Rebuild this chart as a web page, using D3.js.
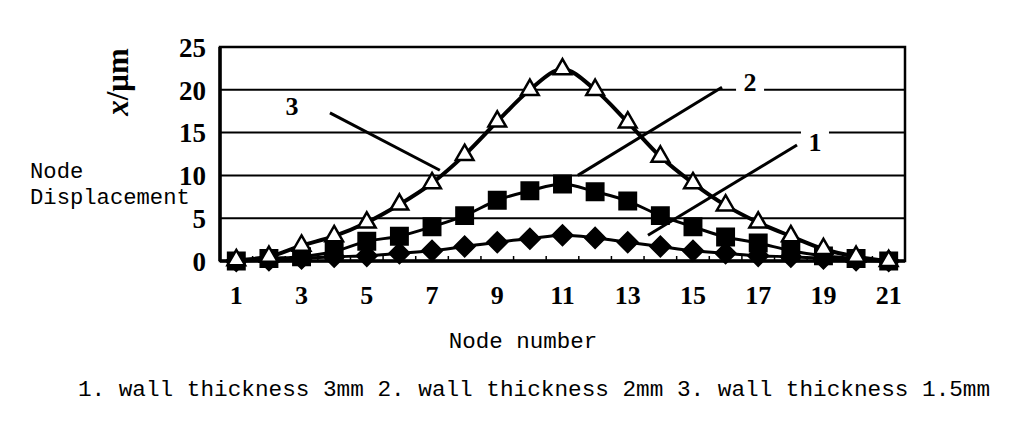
<!DOCTYPE html>
<html><head><meta charset="utf-8">
<script src="https://cdn.jsdelivr.net/npm/d3@7"></script>
<style>
html,body{margin:0;padding:0;background:#fff;}
svg{display:block;}
</style></head>
<body>
<svg id="chart" width="1024" height="445"></svg>
<script>
// ---- data ----
const nodes = d3.range(1, 22);
const xTickLabels = [1,3,5,7,9,11,13,15,17,19,21];
const yTickValues = [0,5,10,15,20,25];
const series1 = [0,0.1,0.3,0.5,0.6,0.9,1.2,1.7,2.2,2.6,3.0,2.7,2.2,1.7,1.2,0.9,0.6,0.5,0.3,0.1,0]; // 3mm diamonds
const series2 = [0,0.3,0.5,1.1,2.3,2.9,4.0,5.3,7.1,8.2,9.0,8.1,7.0,5.3,4.0,2.8,2.1,1.2,0.6,0.3,0]; // 2mm squares
const series3 = [0.1,0.5,1.8,2.9,4.5,6.6,9.1,12.4,16.3,20.0,22.4,20.0,16.2,12.2,9.1,6.5,4.5,2.9,1.4,0.5,0]; // 1.5mm triangles
const labels = ["1","2","3"];
// annotation anchors in data coordinates [node, value]
const annoText = [[18.74,14.0],[16.75,21.0],[2.71,18.2]];
const annoFrom = [[18.19,13.55],[15.89,20.3],[3.87,17.3]];
const annoTo   = [[13.62,3.0],[11.47,10.0],[7.24,10.6]];
const yAxisTitle = "Node\nDisplacement";
const xAxisTitle = "Node number";
const caption = "1. wall thickness 3mm 2. wall thickness 2mm 3. wall thickness 1.5mm";

// ---- layout ----
const svg = d3.select("#chart");
const L = 220, R = 905, T = 47, B = 261;
const x = d3.scaleLinear().domain([0.5, 21.5]).range([L, R]);
const y = d3.scaleLinear().domain([0, 25]).range([B, T]);
const serif = "'Liberation Serif','DejaVu Serif',serif";
const mono = "'Liberation Mono','DejaVu Sans Mono',monospace";

// grid lines
svg.append("g").selectAll("line").data(yTickValues.filter(v => v > 0 && v < 25)).join("line")
  .attr("x1", L).attr("x2", R).attr("y1", d => y(d)).attr("y2", d => y(d))
  .attr("stroke", "#000").attr("stroke-width", 2);

// frame
svg.append("rect").attr("x", L).attr("y", T).attr("width", R - L).attr("height", B - T)
  .attr("fill", "none").attr("stroke", "#000").attr("stroke-width", 2.5);
svg.append("line").attr("x1", L).attr("x2", L).attr("y1", T).attr("y2", B)
  .attr("stroke", "#000").attr("stroke-width", 3.5);
svg.append("line").attr("x1", L).attr("x2", R).attr("y1", B).attr("y2", B)
  .attr("stroke", "#000").attr("stroke-width", 3.5);

// x tick marks at category boundaries
svg.append("g").selectAll("line").data(d3.range(1, 21)).join("line")
  .attr("x1", d => x(d + 0.5)).attr("x2", d => x(d + 0.5))
  .attr("y1", B).attr("y2", B - 5).attr("stroke", "#000").attr("stroke-width", 1.5);

// y tick labels
svg.append("g").selectAll("text").data(yTickValues).join("text")
  .attr("x", 206).attr("y", d => y(d)).attr("dy", "0.36em")
  .attr("text-anchor", "end").attr("font-family", serif).attr("font-weight", "bold")
  .attr("font-size", 27).text(d => d);

// x tick labels
svg.append("g").selectAll("text").data(xTickLabels).join("text")
  .attr("x", d => x(d)).attr("y", 304)
  .attr("text-anchor", "middle").attr("font-family", serif).attr("font-weight", "bold")
  .attr("font-size", 26).text(d => d);

// y axis unit label (rotated)
const yu = svg.append("text").attr("transform", "translate(128,82) rotate(-90)")
  .attr("text-anchor", "middle").attr("font-family", serif).attr("font-weight", "bold")
  .attr("font-size", 31);
yu.append("tspan").attr("font-style", "italic").text("x");
yu.append("tspan").text("/μm");

// y axis title
svg.append("g").selectAll("text").data(yAxisTitle.split("\n")).join("text")
  .attr("x", 30).attr("y", (d, i) => 178 + i * 26)
  .attr("font-family", mono).attr("font-size", 22.2)
  .text(d => d);

// x axis title + caption
svg.append("text").attr("x", 523).attr("y", 348).attr("text-anchor", "middle")
  .attr("font-family", mono).attr("font-size", 22.5).text(xAxisTitle);
svg.append("text").attr("x", 534).attr("y", 396).attr("text-anchor", "middle")
  .attr("font-family", mono).attr("font-size", 22.7).text(caption);

// series
const line = d3.line().x((d, i) => x(nodes[i])).y(d => y(d)).curve(d3.curveMonotoneX);
const seriesList = [
  {vals: series1, shape: d3.symbolSquare, size: 190, rot: 45, fill: "#000", w: 3},
  {vals: series2, shape: d3.symbolSquare, size: 270, rot: 0, fill: "#000", w: 3},
  {vals: series3, shape: d3.symbolTriangle, size: 135, rot: 0, fill: "#fff", w: 4}
];
seriesList.forEach(s => {
  svg.append("path").datum(s.vals).attr("d", line).attr("fill", "none")
    .attr("stroke", "#000").attr("stroke-width", s.w);
  svg.append("g").selectAll("path").data(s.vals).join("path")
    .attr("transform", (d, i) => `translate(${x(nodes[i])},${y(d)}) rotate(${s.rot})`)
    .attr("d", d3.symbol().type(s.shape).size(s.size))
    .attr("fill", s.fill).attr("stroke", "#000").attr("stroke-width", 2.5);
});

// annotations
labels.forEach((lab, i) => {
  svg.append("line")
    .attr("x1", x(annoFrom[i][0])).attr("y1", y(annoFrom[i][1]))
    .attr("x2", x(annoTo[i][0])).attr("y2", y(annoTo[i][1]))
    .attr("stroke", "#000").attr("stroke-width", 3);
  const tx = x(annoText[i][0]), ty = y(annoText[i][1]);
  svg.append("rect").attr("x", tx - 14).attr("y", ty - 14).attr("width", 28).attr("height", 28)
    .attr("fill", "#fff");
  svg.append("text").attr("x", tx).attr("y", ty).attr("dy", "0.36em")
    .attr("text-anchor", "middle").attr("font-family", serif).attr("font-weight", "bold")
    .attr("font-size", 26).text(lab);
});
</script>
</body></html>
